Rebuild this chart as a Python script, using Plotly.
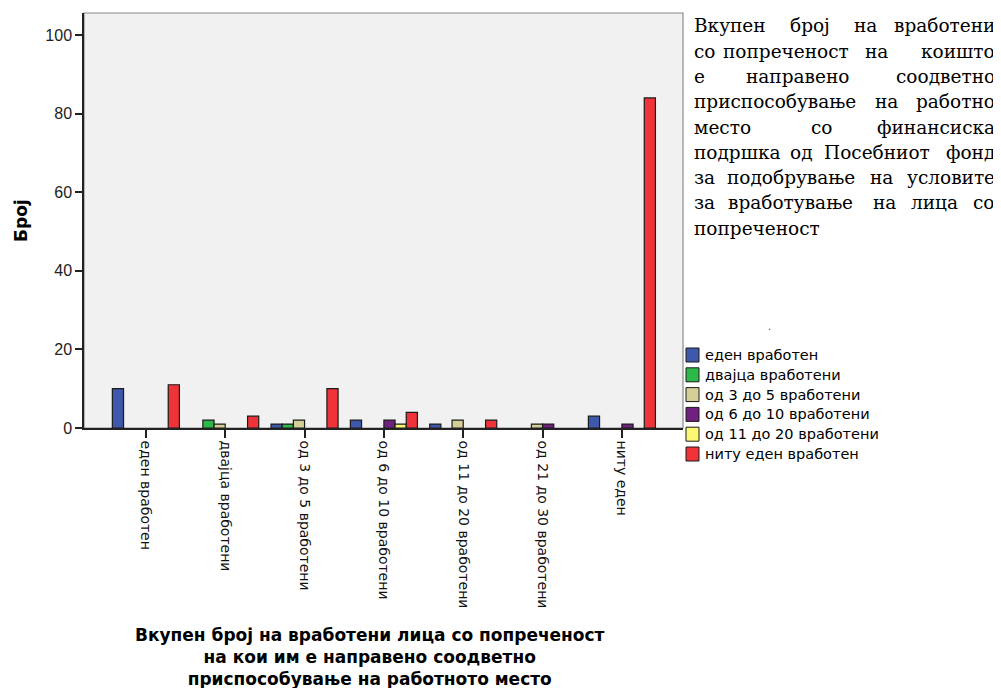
import plotly.graph_objects as go

# ---------------- data ----------------
categories = ["еден вработен", "двајца вработени", "од 3 до 5 вработени",
              "од 6 до 10 вработени", "од 11 до 20 вработени",
              "од 21 до 30 вработени", "ниту еден"]
series_names = ["еден вработен", "двајца вработени", "од 3 до 5 вработени",
                "од 6 до 10 вработени", "од 11 до 20 вработени", "ниту еден вработен"]
s_eden = [10, 0, 1, 2, 1, 0, 3]
s_dvajca = [0, 2, 1, 0, 0, 0, 0]
s_3_5 = [0, 1, 2, 0, 2, 1, 0]
s_6_10 = [0, 0, 0, 2, 0, 1, 1]
s_11_20 = [0, 0, 0, 1, 0, 0, 0]
s_nitu = [11, 3, 10, 4, 2, 0, 84]
y_ticks = [0, 20, 40, 60, 80, 100]

y_title = "Број"
x_title_lines = ["Вкупен број на вработени лица со попреченост",
                 "на кои им е направено соодветно",
                 "приспособување на работното место"]
paragraph_lines = [
    "Вкупен број на вработени",
    "со попреченост на коишто",
    "е направено соодветно",
    "приспособување на работно",
    "место со финансиска",
    "подршка од Посебниот фонд",
    "за подобрување на условите",
    "за вработување на лица со",
    "попреченост",
]

# ---------------- style ----------------
colors = ["#3E58AC", "#2EB848", "#D4CE97", "#70207E", "#FBF873", "#EF3338"]
OFF = 8                      # page body margin
PW, PH = 1001, 688           # page size
L, R, T, B = 84, 683, 13, 428  # plot area in page pixels


def px(x):
    return (x - L) / (R - L)


def py(y):
    return (B - y) / (B - T)


series = [s_eden, s_dvajca, s_3_5, s_6_10, s_11_20, s_nitu]

fig = go.Figure()
for name, vals, col in zip(series_names, series, colors):
    fig.add_trace(go.Bar(
        x=categories,
        y=[v if v != 0 else None for v in vals],
        name=name,
        marker=dict(color=col, line=dict(color="#1a1a1a", width=1.2)),
        showlegend=False,
    ))

tick_font = dict(family="DejaVu Sans", size=14, color="#111")

fig.update_layout(
    width=PW - OFF, height=PH - OFF,
    margin=dict(l=L - OFF, r=PW - R, t=T - OFF, b=PH - B, pad=0),
    paper_bgcolor="white",
    plot_bgcolor="#F0F1F0",
    barmode="group",
    bargap=0.155,
    bargroupgap=0,
    xaxis=dict(
        type="category", range=[-0.78, 6.77],
        showline=True, linecolor="#222", linewidth=1.5,
        ticks="outside", ticklen=8, tickcolor="#222", tickwidth=1.5,
        tickangle=90, tickfont=tick_font, showgrid=False, zeroline=False,
    ),
    yaxis=dict(
        range=[0, 105.6], tickvals=y_ticks,
        showline=True, linecolor="#222", linewidth=1.5,
        ticks="outside", ticklen=7, tickcolor="#222", tickwidth=1.5,
        tickfont=dict(family="Liberation Sans", size=16, color="#222"),
        showgrid=False, zeroline=False,
    ),
)

shapes = [dict(type="rect", xref="paper", yref="paper", x0=0, x1=1, y0=0, y1=1,
               line=dict(color="#8a8a8a", width=1.2), layer="below")]
annotations = []

# y title
annotations.append(dict(text="<b>" + y_title + "</b>", xref="paper", yref="paper",
                        x=px(21), y=py(221), textangle=-90, showarrow=False,
                        font=dict(family="DejaVu Sans", size=17, color="black"),
                        xanchor="center", yanchor="middle"))
# x title
annotations.append(dict(text="<b>" + "<br>".join(x_title_lines) + "</b>",
                        xref="paper", yref="paper", x=px(370), y=py(657.5),
                        showarrow=False, align="center",
                        font=dict(family="DejaVu Sans", size=17, color="black"),
                        xanchor="center", yanchor="middle"))

# manual legend
leg_top = 347
leg_step = 19.8
for i, (name, col) in enumerate(zip(series_names, colors)):
    yc = leg_top + 8 + i * leg_step
    shapes.append(dict(type="rect", xref="paper", yref="paper",
                       x0=px(686), x1=px(699), y0=py(yc - 7), y1=py(yc + 7),
                       fillcolor=col, line=dict(color="#1a1a1a", width=1), layer="above"))
    annotations.append(dict(text=name, xref="paper", yref="paper", x=px(703), y=py(yc),
                            showarrow=False, xanchor="left", yanchor="middle",
                            font=dict(family="DejaVu Sans", size=14.5, color="black")))

annotations.append(dict(text=".", xref="paper", yref="paper", x=px(773), y=py(334),
                        showarrow=False, font=dict(family="DejaVu Sans", size=10, color="#444")))

# justified paragraph (word placement)
left_edge, right_edge = 692, 997
line_y = [26 + 25.25 * i for i in range(len(paragraph_lines))]
middle_centers = [
    [810, 866],
    [786, 876],
    [797],
    [886],
    [822],
    [801, 877],
    [791, 881],
    [790, 884, 934],
    [],
]
pfont = dict(family="DejaVu Serif", size=18.5, color="#000")
for li, line in enumerate(paragraph_lines):
    words = line.split(" ")
    yy = py(line_y[li])
    if li == len(paragraph_lines) - 1:
        annotations.append(dict(text=line, xref="paper", yref="paper", x=px(left_edge), y=yy,
                                showarrow=False, xanchor="left", yanchor="middle", font=pfont))
        continue
    annotations.append(dict(text=words[0], xref="paper", yref="paper", x=px(left_edge), y=yy,
                            showarrow=False, xanchor="left", yanchor="middle", font=pfont))
    for w, xc in zip(words[1:-1], middle_centers[li]):
        annotations.append(dict(text=w, xref="paper", yref="paper", x=px(xc), y=yy,
                                showarrow=False, xanchor="center", yanchor="middle", font=pfont))
    annotations.append(dict(text=words[-1], xref="paper", yref="paper", x=px(right_edge), y=yy,
                            showarrow=False, xanchor="right", yanchor="middle", font=pfont))

fig.update_layout(shapes=shapes, annotations=annotations)
fig.write_html("out.html")
